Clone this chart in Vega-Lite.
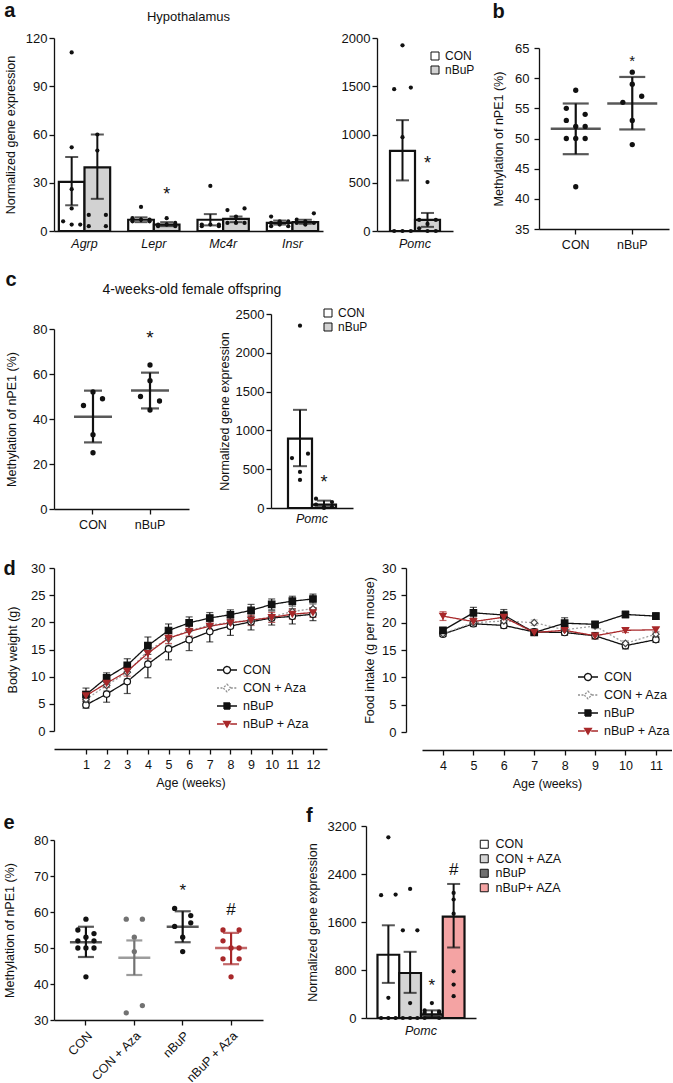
{
  "$schema": "https://vega.github.io/schema/vega-lite/v6.json",
  "padding": {"left": 3, "top": 0, "right": 0, "bottom": 0},
  "background": "white",
  "config": {
    "font": "Liberation Sans",
    "view": {"stroke": null},
    "axis": {"domainColor": "#111", "domainWidth": 1.3, "tickColor": "#111", "tickWidth": 1.3, "tickSize": 5, "labelColor": "#111", "labelFontSize": 13, "titleFontSize": 12.5, "titleFontWeight": "normal", "titleColor": "#111", "grid": false, "labelPadding": 2, "titlePadding": 8, "labelOverlap": false},
    "axisX": {"labelAngle": 0},
    "axisY": {"format": "d", "tickCount": 20},
    "title": {"color": "#111", "fontSize": 20, "fontWeight": "bold", "anchor": "start", "frame": "bounds"},
    "legend": {"labelColor": "#111", "labelFontSize": 12.5}
  },
  "datasets": {
    "aBars": [
      {"gene": "Agrp", "group": "CON", "mean": 30.5, "lo": 16, "hi": 46},
      {"gene": "Agrp", "group": "nBuP", "mean": 39.5, "lo": 20, "hi": 60},
      {"gene": "Lepr", "group": "CON", "mean": 7, "lo": 5.5, "hi": 8.5},
      {"gene": "Lepr", "group": "nBuP", "mean": 4, "lo": 3, "hi": 5.5},
      {"gene": "Mc4r", "group": "CON", "mean": 7, "lo": 3.5, "hi": 10.5},
      {"gene": "Mc4r", "group": "nBuP", "mean": 7.5, "lo": 5.5, "hi": 9},
      {"gene": "Insr", "group": "CON", "mean": 5, "lo": 4, "hi": 6.5},
      {"gene": "Insr", "group": "nBuP", "mean": 5.5, "lo": 4.5, "hi": 7}
    ],
    "aDots": [
      {"gene": "Agrp", "slot": "CON-C", "value": 111}, {"gene": "Agrp", "slot": "CON-C", "value": 52}, {"gene": "Agrp", "slot": "CON-C", "value": 26}, {"gene": "Agrp", "slot": "CON-C", "value": 14}, {"gene": "Agrp", "slot": "CON-L", "value": 6}, {"gene": "Agrp", "slot": "CON-C", "value": 4}, {"gene": "Agrp", "slot": "CON-R", "value": 4},
      {"gene": "Agrp", "slot": "nBuP-C", "value": 60}, {"gene": "Agrp", "slot": "nBuP-C", "value": 50}, {"gene": "Agrp", "slot": "nBuP-L", "value": 10}, {"gene": "Agrp", "slot": "nBuP-R", "value": 10}, {"gene": "Agrp", "slot": "nBuP-L", "value": 3}, {"gene": "Agrp", "slot": "nBuP-R", "value": 3},
      {"gene": "Lepr", "slot": "CON-C", "value": 15}, {"gene": "Lepr", "slot": "CON-L", "value": 8}, {"gene": "Lepr", "slot": "CON-R", "value": 7}, {"gene": "Lepr", "slot": "CON-C", "value": 7}, {"gene": "Lepr", "slot": "CON-L", "value": 6}, {"gene": "Lepr", "slot": "CON-R", "value": 6},
      {"gene": "Lepr", "slot": "nBuP-C", "value": 8}, {"gene": "Lepr", "slot": "nBuP-R", "value": 5}, {"gene": "Lepr", "slot": "nBuP-L", "value": 4}, {"gene": "Lepr", "slot": "nBuP-C", "value": 4}, {"gene": "Lepr", "slot": "nBuP-L", "value": 3}, {"gene": "Lepr", "slot": "nBuP-R", "value": 3},
      {"gene": "Mc4r", "slot": "CON-C", "value": 28}, {"gene": "Mc4r", "slot": "CON-L", "value": 4}, {"gene": "Mc4r", "slot": "CON-C", "value": 4}, {"gene": "Mc4r", "slot": "CON-R", "value": 4}, {"gene": "Mc4r", "slot": "CON-L", "value": 3}, {"gene": "Mc4r", "slot": "CON-R", "value": 3},
      {"gene": "Mc4r", "slot": "nBuP-R", "value": 14}, {"gene": "Mc4r", "slot": "nBuP-L", "value": 13}, {"gene": "Mc4r", "slot": "nBuP-C", "value": 9}, {"gene": "Mc4r", "slot": "nBuP-L", "value": 5}, {"gene": "Mc4r", "slot": "nBuP-C", "value": 5}, {"gene": "Mc4r", "slot": "nBuP-R", "value": 5},
      {"gene": "Insr", "slot": "CON-L", "value": 9}, {"gene": "Insr", "slot": "CON-C", "value": 6}, {"gene": "Insr", "slot": "CON-R", "value": 6}, {"gene": "Insr", "slot": "CON-L", "value": 5}, {"gene": "Insr", "slot": "CON-C", "value": 4}, {"gene": "Insr", "slot": "CON-R", "value": 3}, {"gene": "Insr", "slot": "CON-L", "value": 3},
      {"gene": "Insr", "slot": "nBuP-R", "value": 11}, {"gene": "Insr", "slot": "nBuP-L", "value": 7}, {"gene": "Insr", "slot": "nBuP-C", "value": 6}, {"gene": "Insr", "slot": "nBuP-R", "value": 5}, {"gene": "Insr", "slot": "nBuP-L", "value": 5}, {"gene": "Insr", "slot": "nBuP-C", "value": 4}
    ],
    "aStars": [{"gene": "Lepr", "group": "nBuP", "y": 25, "label": "*"}],
    "pBars": [
      {"gene": "Pomc", "group": "CON", "mean": 830, "lo": 524, "hi": 1149},
      {"gene": "Pomc", "group": "nBuP", "mean": 115, "lo": 43, "hi": 187}
    ],
    "pDots": [
      {"gene": "Pomc", "slot": "CON-C", "value": 1924}, {"gene": "Pomc", "slot": "CON-L", "value": 1469}, {"gene": "Pomc", "slot": "CON-R", "value": 1486}, {"gene": "Pomc", "slot": "CON-C", "value": 972}, {"gene": "Pomc", "slot": "CON-L", "value": 0}, {"gene": "Pomc", "slot": "CON-C", "value": 0}, {"gene": "Pomc", "slot": "CON-R", "value": 0},
      {"gene": "Pomc", "slot": "nBuP-C", "value": 507}, {"gene": "Pomc", "slot": "nBuP-L", "value": 115}, {"gene": "Pomc", "slot": "nBuP-C", "value": 73}, {"gene": "Pomc", "slot": "nBuP-R", "value": 115}, {"gene": "Pomc", "slot": "nBuP-L", "value": 28}, {"gene": "Pomc", "slot": "nBuP-C", "value": 0}, {"gene": "Pomc", "slot": "nBuP-R", "value": 0}
    ],
    "pStars": [{"gene": "Pomc", "group": "nBuP", "y": 733, "label": "*"}],
    "bDots": [
      {"group": "CON", "slot": "C", "value": 58}, {"group": "CON", "slot": "L", "value": 55}, {"group": "CON", "slot": "R", "value": 54}, {"group": "CON", "slot": "L", "value": 53}, {"group": "CON", "slot": "C", "value": 52}, {"group": "CON", "slot": "R", "value": 52}, {"group": "CON", "slot": "L", "value": 50}, {"group": "CON", "slot": "C", "value": 50}, {"group": "CON", "slot": "R", "value": 50}, {"group": "CON", "slot": "C", "value": 42},
      {"group": "nBuP", "slot": "C", "value": 61}, {"group": "nBuP", "slot": "C", "value": 59}, {"group": "nBuP", "slot": "R", "value": 57}, {"group": "nBuP", "slot": "L", "value": 56}, {"group": "nBuP", "slot": "C", "value": 53}, {"group": "nBuP", "slot": "C", "value": 49}
    ],
    "bStats": [
      {"group": "CON", "mean": 51.6, "lo": 47.4, "hi": 55.8},
      {"group": "nBuP", "mean": 55.8, "lo": 51.5, "hi": 60.2}
    ],
    "bStars": [{"group": "nBuP", "y": 63.3, "label": "*"}],
    "cDots": [
      {"group": "CON", "slot": "C", "value": 52}, {"group": "CON", "slot": "R", "value": 49}, {"group": "CON", "slot": "L", "value": 46}, {"group": "CON", "slot": "C", "value": 33}, {"group": "CON", "slot": "C", "value": 25},
      {"group": "nBuP", "slot": "C", "value": 64}, {"group": "nBuP", "slot": "C", "value": 57}, {"group": "nBuP", "slot": "L", "value": 50}, {"group": "nBuP", "slot": "R", "value": 48}, {"group": "nBuP", "slot": "C", "value": 44}
    ],
    "cStats": [
      {"group": "CON", "mean": 41.0, "lo": 29.6, "hi": 52.6},
      {"group": "nBuP", "mean": 52.7, "lo": 44.7, "hi": 60.6}
    ],
    "cStars": [{"group": "nBuP", "y": 78, "label": "*"}],
    "crBars": [
      {"gene": "Pomc", "group": "CON", "mean": 895, "lo": 539, "hi": 1265},
      {"gene": "Pomc", "group": "nBuP", "mean": 43, "lo": 10, "hi": 95}
    ],
    "crDots": [
      {"gene": "Pomc", "slot": "CON-C", "value": 2350}, {"gene": "Pomc", "slot": "CON-L", "value": 644}, {"gene": "Pomc", "slot": "CON-R", "value": 700}, {"gene": "Pomc", "slot": "CON-C", "value": 464}, {"gene": "Pomc", "slot": "CON-C", "value": 361},
      {"gene": "Pomc", "slot": "nBuP-L", "value": 120}, {"gene": "Pomc", "slot": "nBuP-R", "value": 77}, {"gene": "Pomc", "slot": "nBuP-L", "value": 43}, {"gene": "Pomc", "slot": "nBuP-C", "value": 13}, {"gene": "Pomc", "slot": "nBuP-R", "value": 13}, {"gene": "Pomc", "slot": "nBuP-C", "value": 0}
    ],
    "crStars": [{"gene": "Pomc", "group": "nBuP", "y": 380, "label": "*"}],
    "dBW": [
      {"s": "CON", "w": 1, "m": 4.8, "lo": 4.2, "hi": 5.4}, {"s": "CON", "w": 2, "m": 6.8, "lo": 5.3, "hi": 8.3}, {"s": "CON", "w": 3, "m": 9.1, "lo": 6.9, "hi": 11.3}, {"s": "CON", "w": 4, "m": 12.3, "lo": 9.8, "hi": 14.8}, {"s": "CON", "w": 5, "m": 15.1, "lo": 13.1, "hi": 17.1}, {"s": "CON", "w": 6, "m": 16.8, "lo": 14.8, "hi": 18.8}, {"s": "CON", "w": 7, "m": 18.3, "lo": 16.4, "hi": 20.2}, {"s": "CON", "w": 8, "m": 19.3, "lo": 17.6, "hi": 21.0}, {"s": "CON", "w": 9, "m": 20.1, "lo": 18.6, "hi": 21.6}, {"s": "CON", "w": 10, "m": 20.8, "lo": 19.5, "hi": 22.1}, {"s": "CON", "w": 11, "m": 21.1, "lo": 19.7, "hi": 22.5}, {"s": "CON", "w": 12, "m": 21.5, "lo": 20.3, "hi": 22.7},
      {"s": "CON + Aza", "w": 1, "m": 5.8, "lo": 5.0, "hi": 6.6}, {"s": "CON + Aza", "w": 2, "m": 8.4, "lo": 7.4, "hi": 9.4}, {"s": "CON + Aza", "w": 3, "m": 10.8, "lo": 9.6, "hi": 12.0}, {"s": "CON + Aza", "w": 4, "m": 14.8, "lo": 13.4, "hi": 16.2}, {"s": "CON + Aza", "w": 5, "m": 17.0, "lo": 15.8, "hi": 18.2}, {"s": "CON + Aza", "w": 6, "m": 18.5, "lo": 17.5, "hi": 19.5}, {"s": "CON + Aza", "w": 7, "m": 19.5, "lo": 18.5, "hi": 20.5}, {"s": "CON + Aza", "w": 8, "m": 20.0, "lo": 19.0, "hi": 21.0}, {"s": "CON + Aza", "w": 9, "m": 20.4, "lo": 19.4, "hi": 21.4}, {"s": "CON + Aza", "w": 10, "m": 21.0, "lo": 20.0, "hi": 22.0}, {"s": "CON + Aza", "w": 11, "m": 22.0, "lo": 21.0, "hi": 23.0}, {"s": "CON + Aza", "w": 12, "m": 22.5, "lo": 21.5, "hi": 23.5},
      {"s": "nBuP", "w": 1, "m": 6.7, "lo": 5.5, "hi": 7.9}, {"s": "nBuP", "w": 2, "m": 9.8, "lo": 8.9, "hi": 10.7}, {"s": "nBuP", "w": 3, "m": 12.1, "lo": 10.9, "hi": 13.3}, {"s": "nBuP", "w": 4, "m": 15.7, "lo": 14.1, "hi": 17.3}, {"s": "nBuP", "w": 5, "m": 18.5, "lo": 17.3, "hi": 19.7}, {"s": "nBuP", "w": 6, "m": 19.9, "lo": 18.8, "hi": 21.0}, {"s": "nBuP", "w": 7, "m": 20.8, "lo": 19.8, "hi": 21.8}, {"s": "nBuP", "w": 8, "m": 21.4, "lo": 20.5, "hi": 22.3}, {"s": "nBuP", "w": 9, "m": 22.2, "lo": 21.1, "hi": 23.3}, {"s": "nBuP", "w": 10, "m": 23.3, "lo": 22.3, "hi": 24.3}, {"s": "nBuP", "w": 11, "m": 23.9, "lo": 23.0, "hi": 24.8}, {"s": "nBuP", "w": 12, "m": 24.3, "lo": 23.4, "hi": 25.2},
      {"s": "nBuP + Aza", "w": 1, "m": 6.5, "lo": 5.7, "hi": 7.3}, {"s": "nBuP + Aza", "w": 2, "m": 8.8, "lo": 8.0, "hi": 9.6}, {"s": "nBuP + Aza", "w": 3, "m": 11.0, "lo": 10.1, "hi": 11.9}, {"s": "nBuP + Aza", "w": 4, "m": 14.3, "lo": 13.3, "hi": 15.3}, {"s": "nBuP + Aza", "w": 5, "m": 17.1, "lo": 16.1, "hi": 18.1}, {"s": "nBuP + Aza", "w": 6, "m": 18.3, "lo": 17.4, "hi": 19.2}, {"s": "nBuP + Aza", "w": 7, "m": 19.3, "lo": 18.4, "hi": 20.2}, {"s": "nBuP + Aza", "w": 8, "m": 19.9, "lo": 19.0, "hi": 20.8}, {"s": "nBuP + Aza", "w": 9, "m": 20.4, "lo": 19.5, "hi": 21.3}, {"s": "nBuP + Aza", "w": 10, "m": 20.9, "lo": 20.0, "hi": 21.8}, {"s": "nBuP + Aza", "w": 11, "m": 21.5, "lo": 20.6, "hi": 22.4}, {"s": "nBuP + Aza", "w": 12, "m": 21.8, "lo": 20.9, "hi": 22.7}
    ],
    "dFI": [
      {"s": "CON", "w": 4, "m": 17.9, "lo": 17.5, "hi": 18.3}, {"s": "CON", "w": 5, "m": 19.8, "lo": 19.3, "hi": 20.3}, {"s": "CON", "w": 6, "m": 19.5, "lo": 19.0, "hi": 20.0}, {"s": "CON", "w": 7, "m": 18.3, "lo": 17.8, "hi": 18.8}, {"s": "CON", "w": 8, "m": 18.2, "lo": 17.7, "hi": 18.7}, {"s": "CON", "w": 9, "m": 17.6, "lo": 17.0, "hi": 18.2}, {"s": "CON", "w": 10, "m": 15.8, "lo": 15.2, "hi": 16.4}, {"s": "CON", "w": 11, "m": 16.9, "lo": 16.4, "hi": 17.4},
      {"s": "CON + Aza", "w": 4, "m": 18.0, "lo": 17.6, "hi": 18.4}, {"s": "CON + Aza", "w": 5, "m": 20.0, "lo": 19.5, "hi": 20.5}, {"s": "CON + Aza", "w": 6, "m": 20.3, "lo": 19.8, "hi": 20.8}, {"s": "CON + Aza", "w": 7, "m": 20.0, "lo": 19.5, "hi": 20.5}, {"s": "CON + Aza", "w": 8, "m": 18.7, "lo": 18.2, "hi": 19.2}, {"s": "CON + Aza", "w": 9, "m": 19.4, "lo": 18.9, "hi": 19.9}, {"s": "CON + Aza", "w": 10, "m": 16.2, "lo": 15.7, "hi": 16.7}, {"s": "CON + Aza", "w": 11, "m": 17.9, "lo": 17.4, "hi": 18.4},
      {"s": "nBuP", "w": 4, "m": 18.6, "lo": 18.1, "hi": 19.1}, {"s": "nBuP", "w": 5, "m": 21.8, "lo": 20.8, "hi": 22.8}, {"s": "nBuP", "w": 6, "m": 21.4, "lo": 20.4, "hi": 22.4}, {"s": "nBuP", "w": 7, "m": 18.2, "lo": 17.7, "hi": 18.7}, {"s": "nBuP", "w": 8, "m": 19.9, "lo": 18.9, "hi": 20.9}, {"s": "nBuP", "w": 9, "m": 19.7, "lo": 19.2, "hi": 20.2}, {"s": "nBuP", "w": 10, "m": 21.5, "lo": 20.9, "hi": 22.1}, {"s": "nBuP", "w": 11, "m": 21.2, "lo": 20.6, "hi": 21.8},
      {"s": "nBuP + Aza", "w": 4, "m": 21.2, "lo": 20.4, "hi": 22.0}, {"s": "nBuP + Aza", "w": 5, "m": 20.2, "lo": 19.6, "hi": 20.8}, {"s": "nBuP + Aza", "w": 6, "m": 21.0, "lo": 20.4, "hi": 21.6}, {"s": "nBuP + Aza", "w": 7, "m": 18.2, "lo": 17.8, "hi": 18.6}, {"s": "nBuP + Aza", "w": 8, "m": 18.6, "lo": 18.1, "hi": 19.1}, {"s": "nBuP + Aza", "w": 9, "m": 17.6, "lo": 17.1, "hi": 18.1}, {"s": "nBuP + Aza", "w": 10, "m": 18.6, "lo": 18.2, "hi": 19.0}, {"s": "nBuP + Aza", "w": 11, "m": 18.7, "lo": 18.3, "hi": 19.1}
    ],
    "eDots": [
      {"cat": "CON", "slot": "C", "value": 58}, {"cat": "CON", "slot": "L", "value": 55}, {"cat": "CON", "slot": "R", "value": 54}, {"cat": "CON", "slot": "C", "value": 53}, {"cat": "CON", "slot": "L", "value": 52}, {"cat": "CON", "slot": "R", "value": 52}, {"cat": "CON", "slot": "L", "value": 50}, {"cat": "CON", "slot": "C", "value": 50}, {"cat": "CON", "slot": "R", "value": 50}, {"cat": "CON", "slot": "C", "value": 42},
      {"cat": "CON + Aza", "slot": "L", "value": 58}, {"cat": "CON + Aza", "slot": "R", "value": 58}, {"cat": "CON + Aza", "slot": "C", "value": 53}, {"cat": "CON + Aza", "slot": "C", "value": 49}, {"cat": "CON + Aza", "slot": "R", "value": 34}, {"cat": "CON + Aza", "slot": "L", "value": 32},
      {"cat": "nBuP", "slot": "L", "value": 61}, {"cat": "nBuP", "slot": "R", "value": 59}, {"cat": "nBuP", "slot": "R", "value": 57}, {"cat": "nBuP", "slot": "L", "value": 56}, {"cat": "nBuP", "slot": "C", "value": 53}, {"cat": "nBuP", "slot": "C", "value": 49},
      {"cat": "nBuP + Aza", "slot": "L", "value": 55}, {"cat": "nBuP + Aza", "slot": "R", "value": 55}, {"cat": "nBuP + Aza", "slot": "L", "value": 52}, {"cat": "nBuP + Aza", "slot": "C", "value": 50}, {"cat": "nBuP + Aza", "slot": "R", "value": 50}, {"cat": "nBuP + Aza", "slot": "L", "value": 47}, {"cat": "nBuP + Aza", "slot": "R", "value": 47}, {"cat": "nBuP + Aza", "slot": "C", "value": 42}
    ],
    "eStats": [
      {"cat": "CON", "mean": 51.6, "lo": 47.5, "hi": 55.9},
      {"cat": "CON + Aza", "mean": 47.3, "lo": 42.5, "hi": 52.1},
      {"cat": "nBuP", "mean": 55.9, "lo": 51.6, "hi": 60.2},
      {"cat": "nBuP + Aza", "mean": 50.0, "lo": 45.5, "hi": 54.2}
    ],
    "eMarks": [
      {"cat": "nBuP", "y": 66.8, "label": "*"},
      {"cat": "nBuP + Aza", "y": 61.5, "label": "#"}
    ],
    "fBars": [
      {"gene": "Pomc", "grp": "CON", "mean": 1054, "lo": 585, "hi": 1545},
      {"gene": "Pomc", "grp": "CON + AZA", "mean": 750, "lo": 419, "hi": 1103},
      {"gene": "Pomc", "grp": "nBuP", "mean": 60, "lo": 20, "hi": 127},
      {"gene": "Pomc", "grp": "nBuP+ AZA", "mean": 1688, "lo": 1175, "hi": 2234}
    ],
    "fDots": [
      {"gene": "Pomc", "slot": "1C", "value": 3012}, {"gene": "Pomc", "slot": "1L", "value": 2047}, {"gene": "Pomc", "slot": "1R", "value": 2058}, {"gene": "Pomc", "slot": "1C", "value": 337}, {"gene": "Pomc", "slot": "1L", "value": 0}, {"gene": "Pomc", "slot": "1C", "value": 0}, {"gene": "Pomc", "slot": "1R", "value": 0},
      {"gene": "Pomc", "slot": "2C", "value": 2152}, {"gene": "Pomc", "slot": "2L", "value": 1462}, {"gene": "Pomc", "slot": "2R", "value": 1462}, {"gene": "Pomc", "slot": "2C", "value": 248}, {"gene": "Pomc", "slot": "2L", "value": 0}, {"gene": "Pomc", "slot": "2C", "value": 0}, {"gene": "Pomc", "slot": "2R", "value": 0},
      {"gene": "Pomc", "slot": "3C", "value": 248}, {"gene": "Pomc", "slot": "3L", "value": 127}, {"gene": "Pomc", "slot": "3R", "value": 110}, {"gene": "Pomc", "slot": "3L", "value": 88}, {"gene": "Pomc", "slot": "3R", "value": 88}, {"gene": "Pomc", "slot": "3L", "value": 0}, {"gene": "Pomc", "slot": "3R", "value": 0},
      {"gene": "Pomc", "slot": "4C", "value": 2085}, {"gene": "Pomc", "slot": "4C", "value": 1975}, {"gene": "Pomc", "slot": "4C", "value": 1738}, {"gene": "Pomc", "slot": "4C", "value": 778}, {"gene": "Pomc", "slot": "4C", "value": 557}, {"gene": "Pomc", "slot": "4C", "value": 364}
    ],
    "fMarks": [
      {"gene": "Pomc", "grp": "nBuP", "y": 585, "label": "*"},
      {"gene": "Pomc", "grp": "nBuP+ AZA", "y": 2520, "label": "#"}
    ]
  },
  "concat": [
    {
      "concat": [
        {
          "concat": [
            {
              "title": {"text": "a", "offset": -10},
              "concat": [
                {
                  "width": 269, "height": 193,
                  "title": {"text": "Hypothalamus", "fontSize": 13, "fontWeight": "normal", "anchor": "middle", "frame": "group", "offset": 8.5},
                  "resolve": {"scale": {"xOffset": "independent"}},
                  "encoding": {"x": {"field": "gene", "type": "nominal", "sort": null, "scale": {"domain": ["Agrp", "Lepr", "Mc4r", "Insr"], "paddingInner": 0.26, "paddingOuter": 0.07}, "axis": {"title": null, "ticks": false, "labelFontStyle": "italic", "labelFontSize": 12.5, "labelPadding": 6}}},
                  "layer": [
                    {"data": {"name": "aBars"}, "mark": {"type": "bar", "stroke": "#111", "strokeWidth": 2.2},
                     "encoding": {"xOffset": {"field": "group", "type": "nominal", "scale": {"domain": ["CON", "nBuP"]}},
                       "y": {"field": "mean", "type": "quantitative", "title": "Normalized gene expression", "scale": {"domain": [0, 120], "nice": false}, "axis": {"values": [0, 30, 60, 90, 120], "tickCount": 20, "labelOverlap": false, "titlePadding": 8}},
                       "fill": {"field": "group", "type": "nominal", "scale": {"domain": ["CON", "nBuP"], "range": ["#ffffff", "#d2d2d2"]}, "legend": null}}},
                    {"data": {"name": "aDots"}, "mark": {"type": "circle", "size": 18, "color": "#111", "opacity": 1},
                     "encoding": {"xOffset": {"field": "slot", "type": "nominal", "scale": {"domain": ["CON-L", "CON-C", "CON-R", "nBuP-L", "nBuP-C", "nBuP-R"]}},
                       "y": {"field": "value", "type": "quantitative", "title": "Normalized gene expression"}}},
                    {"data": {"name": "aBars"}, "mark": {"type": "rule", "color": "#111", "strokeWidth": 2},
                     "encoding": {"xOffset": {"field": "group", "type": "nominal", "scale": {"domain": ["CON", "nBuP"]}}, "y": {"field": "lo", "type": "quantitative", "title": "Normalized gene expression"}, "y2": {"field": "hi"}}},
                    {"data": {"name": "aBars"}, "mark": {"type": "tick", "color": "#111", "thickness": 2, "size": 13},
                     "encoding": {"xOffset": {"field": "group", "type": "nominal", "scale": {"domain": ["CON", "nBuP"]}}, "y": {"field": "lo", "type": "quantitative", "title": "Normalized gene expression"}}},
                    {"data": {"name": "aBars"}, "mark": {"type": "tick", "color": "#111", "thickness": 2, "size": 13},
                     "encoding": {"xOffset": {"field": "group", "type": "nominal", "scale": {"domain": ["CON", "nBuP"]}}, "y": {"field": "hi", "type": "quantitative", "title": "Normalized gene expression"}}},
                    {"data": {"name": "aStars"}, "mark": {"type": "text", "fontSize": 18, "baseline": "middle", "dy": 4, "color": "#111"},
                     "encoding": {"xOffset": {"field": "group", "type": "nominal", "scale": {"domain": ["CON", "nBuP"]}}, "y": {"field": "y", "type": "quantitative", "title": "Normalized gene expression"}, "text": {"field": "label"}}}
                  ]
                },
                {
                  "width": 76, "height": 193,
                  "resolve": {"scale": {"xOffset": "independent"}},
                  "encoding": {"x": {"field": "gene", "type": "nominal", "scale": {"domain": ["Pomc"], "paddingInner": 0, "paddingOuter": 0.26}, "axis": {"title": null, "ticks": false, "labelFontStyle": "italic", "labelFontSize": 12.5, "labelPadding": 6}}},
                  "layer": [
                    {"data": {"name": "pBars"}, "mark": {"type": "bar", "stroke": "#111", "strokeWidth": 2.2},
                     "encoding": {"xOffset": {"field": "group", "type": "nominal", "scale": {"domain": ["CON", "nBuP"]}},
                       "y": {"field": "mean", "type": "quantitative", "title": null, "scale": {"domain": [0, 2000], "nice": false}, "axis": {"values": [0, 500, 1000, 1500, 2000], "tickCount": 20, "labelOverlap": false}},
                       "fill": {"field": "group", "type": "nominal", "scale": {"domain": ["CON", "nBuP"], "range": ["#ffffff", "#d2d2d2"]},
                         "legend": {"title": null, "orient": "none", "legendX": 52, "legendY": 12, "symbolType": "square", "symbolSize": 64, "symbolStrokeColor": "#111", "symbolStrokeWidth": 1, "labelFontSize": 12, "rowPadding": 2, "labelOffset": 4}}}},
                    {"data": {"name": "pDots"}, "mark": {"type": "circle", "size": 18, "color": "#111", "opacity": 1},
                     "encoding": {"xOffset": {"field": "slot", "type": "nominal", "scale": {"domain": ["CON-L", "CON-C", "CON-R", "nBuP-L", "nBuP-C", "nBuP-R"]}},
                       "y": {"field": "value", "type": "quantitative", "title": null}}},
                    {"data": {"name": "pBars"}, "mark": {"type": "rule", "color": "#111", "strokeWidth": 2},
                     "encoding": {"xOffset": {"field": "group", "type": "nominal", "scale": {"domain": ["CON", "nBuP"]}}, "y": {"field": "lo", "type": "quantitative", "title": null}, "y2": {"field": "hi"}}},
                    {"data": {"name": "pBars"}, "mark": {"type": "tick", "color": "#111", "thickness": 2, "size": 13},
                     "encoding": {"xOffset": {"field": "group", "type": "nominal", "scale": {"domain": ["CON", "nBuP"]}}, "y": {"field": "lo", "type": "quantitative", "title": null}}},
                    {"data": {"name": "pBars"}, "mark": {"type": "tick", "color": "#111", "thickness": 2, "size": 13},
                     "encoding": {"xOffset": {"field": "group", "type": "nominal", "scale": {"domain": ["CON", "nBuP"]}}, "y": {"field": "hi", "type": "quantitative", "title": null}}},
                    {"data": {"name": "pStars"}, "mark": {"type": "text", "fontSize": 18, "baseline": "middle", "dy": 4, "color": "#111"},
                     "encoding": {"xOffset": {"field": "group", "type": "nominal", "scale": {"domain": ["CON", "nBuP"]}}, "y": {"field": "y", "type": "quantitative", "title": null}, "text": {"field": "label"}}}
                  ]
                }
              ],
              "spacing": 18,
              "align": "none",
              "resolve": {"scale": {"fill": "independent", "color": "independent", "xOffset": "independent"}}
            },
            {
              "title": {"text": "b", "offset": 16},
              "concat": [
                {"width": 10, "height": 3.5, "data": {"name": "bStats"}, "transform": [{"filter": "false"}], "mark": {"type": "point"}},
                {
                  "width": 130, "height": 181,
                  "encoding": {"x": {"field": "group", "type": "nominal", "sort": null, "scale": {"domain": ["CON", "nBuP"], "paddingInner": 0.5, "paddingOuter": 0.4}, "axis": {"title": null, "labelFontSize": 12.5, "labelPadding": 4}}},
                  "layer": [
                    {"data": {"name": "bDots"}, "mark": {"type": "circle", "size": 28, "color": "#111", "opacity": 1},
                     "encoding": {"xOffset": {"field": "slot", "type": "nominal", "scale": {"domain": ["L", "C", "R"]}},
                       "y": {"field": "value", "type": "quantitative", "title": "Methylation of nPE1 (%)", "scale": {"domain": [35, 65], "nice": false, "zero": false}, "axis": {"values": [35, 40, 45, 50, 55, 60, 65], "tickCount": 20, "labelOverlap": false, "labelPadding": 5, "titlePadding": 9}}}},
                    {"data": {"name": "bStats"}, "mark": {"type": "tick", "size": 50, "thickness": 2.5, "color": "#111"},
                     "encoding": {"y": {"field": "mean", "type": "quantitative", "title": "Methylation of nPE1 (%)"}}},
                    {"data": {"name": "bStats"}, "mark": {"type": "rule", "strokeWidth": 2.2, "color": "#111"},
                     "encoding": {"y": {"field": "lo", "type": "quantitative", "title": "Methylation of nPE1 (%)"}, "y2": {"field": "hi"}}},
                    {"data": {"name": "bStats"}, "mark": {"type": "tick", "size": 26, "thickness": 2.2, "color": "#111"},
                     "encoding": {"y": {"field": "lo", "type": "quantitative", "title": "Methylation of nPE1 (%)"}}},
                    {"data": {"name": "bStats"}, "mark": {"type": "tick", "size": 26, "thickness": 2.2, "color": "#111"},
                     "encoding": {"y": {"field": "hi", "type": "quantitative", "title": "Methylation of nPE1 (%)"}}},
                    {"data": {"name": "bStars"}, "mark": {"type": "text", "fontSize": 15, "baseline": "middle", "dy": 3, "color": "#111"},
                     "encoding": {"y": {"field": "y", "type": "quantitative", "title": "Methylation of nPE1 (%)"}, "text": {"field": "label"}}}
                  ]
                }
              ],
              "columns": 1,
              "spacing": 0,
              "align": "none"
            }
          ],
          "spacing": 17,
          "align": "none",
          "resolve": {"scale": {"fill": "independent", "color": "independent", "xOffset": "independent"}}
        },
        {
          "title": {"text": "c", "offset": -7},
          "concat": [
            {
              "title": {"text": "4-weeks-old female offspring", "fontSize": 14, "fontWeight": "normal", "anchor": "start", "dx": 97, "offset": 10},
              "concat": [
                {
                  "concat": [
                    {"width": 10, "height": 8.5, "data": {"name": "cStats"}, "transform": [{"filter": "false"}], "mark": {"type": "point"}},
                    {
                      "width": 135, "height": 180,
                      "encoding": {"x": {"field": "group", "type": "nominal", "sort": null, "scale": {"domain": ["CON", "nBuP"], "paddingInner": 0.5, "paddingOuter": 0.434}, "axis": {"title": null, "labelFontSize": 12.5, "labelPadding": 4}}},
                      "layer": [
                        {"data": {"name": "cDots"}, "mark": {"type": "circle", "size": 28, "color": "#111", "opacity": 1},
                         "encoding": {"xOffset": {"field": "slot", "type": "nominal", "scale": {"domain": ["L", "C", "R"]}},
                           "y": {"field": "value", "type": "quantitative", "title": "Methylation of nPE1 (%)", "scale": {"domain": [0, 80], "nice": false}, "axis": {"values": [0, 20, 40, 60, 80], "tickCount": 20, "labelOverlap": false, "labelPadding": 2, "titlePadding": 14}}}},
                        {"data": {"name": "cStats"}, "mark": {"type": "tick", "size": 38, "thickness": 2.5, "color": "#111"},
                         "encoding": {"y": {"field": "mean", "type": "quantitative", "title": "Methylation of nPE1 (%)"}}},
                        {"data": {"name": "cStats"}, "mark": {"type": "rule", "strokeWidth": 2.2, "color": "#111"},
                         "encoding": {"y": {"field": "lo", "type": "quantitative", "title": "Methylation of nPE1 (%)"}, "y2": {"field": "hi"}}},
                        {"data": {"name": "cStats"}, "mark": {"type": "tick", "size": 18, "thickness": 2.2, "color": "#111"},
                         "encoding": {"y": {"field": "lo", "type": "quantitative", "title": "Methylation of nPE1 (%)"}}},
                        {"data": {"name": "cStats"}, "mark": {"type": "tick", "size": 18, "thickness": 2.2, "color": "#111"},
                         "encoding": {"y": {"field": "hi", "type": "quantitative", "title": "Methylation of nPE1 (%)"}}},
                        {"data": {"name": "cStars"}, "mark": {"type": "text", "fontSize": 19, "baseline": "middle", "dy": 4, "color": "#111"},
                         "encoding": {"y": {"field": "y", "type": "quantitative", "title": "Methylation of nPE1 (%)"}, "text": {"field": "label"}}}
                      ]
                    }
                  ],
                  "columns": 1,
                  "spacing": 0,
                  "align": "none"
                },
                {
                  "width": 82, "height": 194,
                  "resolve": {"scale": {"xOffset": "independent"}},
                  "encoding": {"x": {"field": "gene", "type": "nominal", "scale": {"domain": ["Pomc"], "paddingInner": 0, "paddingOuter": 0.354}, "axis": {"title": null, "ticks": false, "labelFontStyle": "italic", "labelFontSize": 12.5, "labelPadding": 4}}},
                  "layer": [
                    {"data": {"name": "crBars"}, "mark": {"type": "bar", "stroke": "#111", "strokeWidth": 2.2},
                     "encoding": {"xOffset": {"field": "group", "type": "nominal", "scale": {"domain": ["CON", "nBuP"]}},
                       "y": {"field": "mean", "type": "quantitative", "title": "Normalized gene expression", "scale": {"domain": [0, 2500], "nice": false}, "axis": {"values": [0, 500, 1000, 1500, 2000, 2500], "tickCount": 20, "labelOverlap": false, "labelPadding": 2, "titlePadding": 4}},
                       "fill": {"field": "group", "type": "nominal", "scale": {"domain": ["CON", "nBuP"], "range": ["#ffffff", "#d2d2d2"]},
                         "legend": {"title": null, "orient": "none", "legendX": 51, "legendY": -7, "symbolType": "square", "symbolSize": 64, "symbolStrokeColor": "#111", "symbolStrokeWidth": 1, "labelFontSize": 12, "rowPadding": 2, "labelOffset": 4}}}},
                    {"data": {"name": "crDots"}, "mark": {"type": "circle", "size": 18, "color": "#111", "opacity": 1},
                     "encoding": {"xOffset": {"field": "slot", "type": "nominal", "scale": {"domain": ["CON-L", "CON-C", "CON-R", "nBuP-L", "nBuP-C", "nBuP-R"]}},
                       "y": {"field": "value", "type": "quantitative", "title": "Normalized gene expression"}}},
                    {"data": {"name": "crBars"}, "mark": {"type": "rule", "color": "#111", "strokeWidth": 2},
                     "encoding": {"xOffset": {"field": "group", "type": "nominal", "scale": {"domain": ["CON", "nBuP"]}}, "y": {"field": "lo", "type": "quantitative", "title": "Normalized gene expression"}, "y2": {"field": "hi"}}},
                    {"data": {"name": "crBars"}, "mark": {"type": "tick", "color": "#111", "thickness": 2, "size": 14},
                     "encoding": {"xOffset": {"field": "group", "type": "nominal", "scale": {"domain": ["CON", "nBuP"]}}, "y": {"field": "lo", "type": "quantitative", "title": "Normalized gene expression"}}},
                    {"data": {"name": "crBars"}, "mark": {"type": "tick", "color": "#111", "thickness": 2, "size": 14},
                     "encoding": {"xOffset": {"field": "group", "type": "nominal", "scale": {"domain": ["CON", "nBuP"]}}, "y": {"field": "hi", "type": "quantitative", "title": "Normalized gene expression"}}},
                    {"data": {"name": "crStars"}, "mark": {"type": "text", "fontSize": 18, "baseline": "middle", "dy": 4, "color": "#111"},
                     "encoding": {"xOffset": {"field": "group", "type": "nominal", "scale": {"domain": ["CON", "nBuP"]}}, "y": {"field": "y", "type": "quantitative", "title": "Normalized gene expression"}, "text": {"field": "label"}}}
                  ]
                }
              ],
              "spacing": 29,
              "align": "none",
              "resolve": {"scale": {"fill": "independent", "color": "independent", "xOffset": "independent"}}
            }
          ],
          "align": "none",
          "resolve": {"scale": {"fill": "independent", "color": "independent", "xOffset": "independent"}}
        }
      ],
      "columns": 1,
      "spacing": 19,
      "align": "none",
      "resolve": {"scale": {"fill": "independent", "color": "independent", "xOffset": "independent"}}
    },
    {
      "concat": [
        {
          "title": {"text": "d", "offset": -16.5, "dx": -3},
          "concat": [
            {
              "width": 273, "height": 163,
              "resolve": {"scale": {"shape": "independent", "fill": "independent", "stroke": "independent", "strokeDash": "independent", "color": "independent"}},
              "encoding": {"x": {"field": "w", "type": "quantitative", "scale": {"domain": [-0.55, 12.68], "nice": false, "zero": false}, "axis": {"values": [1, 2, 3, 4, 5, 6, 7, 8, 9, 10, 11, 12], "format": "d", "tickCount": 20, "labelOverlap": false, "offset": 18, "title": "Age (weeks)", "labelFontSize": 12.5, "labelPadding": 4, "titlePadding": 6}}},
              "layer": [
                {"data": {"name": "dBW"}, "mark": {"type": "line", "strokeWidth": 1.3},
                 "encoding": {"y": {"field": "m", "type": "quantitative", "title": "Body weight (g)", "scale": {"domain": [0, 30], "nice": false}, "axis": {"values": [0, 5, 10, 15, 20, 25, 30], "tickCount": 20, "labelOverlap": false, "labelPadding": 4, "titlePadding": 11}},
                   "color": {"field": "s", "type": "nominal", "scale": {"domain": ["CON", "CON + Aza", "nBuP", "nBuP + Aza"], "range": ["#111111", "#a0a0a0", "#111111", "#a8282a"]}, "legend": null},
                   "strokeDash": {"field": "s", "type": "nominal", "scale": {"domain": ["CON", "CON + Aza", "nBuP", "nBuP + Aza"], "range": [[1, 0], [2, 2], [1, 0], [1, 0]]}, "legend": null}}},
                {"data": {"name": "dBW"}, "mark": {"type": "rule", "strokeWidth": 1.2},
                 "encoding": {"y": {"field": "lo", "type": "quantitative", "title": "Body weight (g)"}, "y2": {"field": "hi"}, "color": {"field": "s", "type": "nominal", "scale": {"domain": ["CON", "CON + Aza", "nBuP", "nBuP + Aza"], "range": ["#111111", "#a0a0a0", "#111111", "#a8282a"]}, "legend": null}}},
                {"data": {"name": "dBW"}, "mark": {"type": "tick", "orient": "horizontal", "size": 7, "thickness": 1.2},
                 "encoding": {"y": {"field": "lo", "type": "quantitative", "title": "Body weight (g)"}, "color": {"field": "s", "type": "nominal", "scale": {"domain": ["CON", "CON + Aza", "nBuP", "nBuP + Aza"], "range": ["#111111", "#a0a0a0", "#111111", "#a8282a"]}, "legend": null}}},
                {"data": {"name": "dBW"}, "mark": {"type": "tick", "orient": "horizontal", "size": 7, "thickness": 1.2},
                 "encoding": {"y": {"field": "hi", "type": "quantitative", "title": "Body weight (g)"}, "color": {"field": "s", "type": "nominal", "scale": {"domain": ["CON", "CON + Aza", "nBuP", "nBuP + Aza"], "range": ["#111111", "#a0a0a0", "#111111", "#a8282a"]}, "legend": null}}},
                {"data": {"name": "dBW"}, "mark": {"type": "point", "filled": true, "size": 42, "strokeWidth": 1.2, "opacity": 1},
                 "encoding": {"y": {"field": "m", "type": "quantitative", "title": "Body weight (g)"},
                   "fill": {"field": "s", "type": "nominal", "scale": {"domain": ["CON", "CON + Aza", "nBuP", "nBuP + Aza"], "range": ["#ffffff", "#ffffff", "#111111", "#a8282a"]}, "legend": null},
                   "stroke": {"field": "s", "type": "nominal", "scale": {"domain": ["CON", "CON + Aza", "nBuP", "nBuP + Aza"], "range": ["#111111", "#444444", "#111111", "#a8282a"]}, "legend": null},
                   "shape": {"field": "s", "type": "nominal", "scale": {"domain": ["CON", "CON + Aza", "nBuP", "nBuP + Aza"], "range": ["circle", "diamond", "square", "triangle-down"]}, "legend": null}}},
                {"data": {"name": "dBW"}, "transform": [{"filter": "false"}], "mark": {"type": "point", "filled": true, "size": 400, "strokeWidth": 1.3, "opacity": 1},
                 "encoding": {
                   "shape": {"field": "s", "type": "nominal", "scale": {"domain": ["CON", "CON + Aza", "nBuP", "nBuP + Aza"], "range": ["M-1,0H-0.35M0.35,0H1M-0.35,0A0.35,0.35 0 1,1 0.35,0A0.35,0.35 0 1,1 -0.35,0Z", "M-1,0H-0.38M0.38,0H1M0,-0.38L0.38,0L0,0.38L-0.38,0Z", "M-1,0H-0.3M0.3,0H1M-0.3,-0.3H0.3V0.3H-0.3Z", "M-1,0H-0.32M0.32,0H1M-0.34,-0.26H0.34L0,0.32Z"]},
                     "legend": {"title": null, "orient": "none", "legendX": 162, "legendY": 91, "labelFontSize": 12.5, "rowPadding": 0, "symbolSize": 400, "symbolStrokeWidth": 1.3, "labelOffset": 5}},
                   "fill": {"field": "s", "type": "nominal", "scale": {"domain": ["CON", "CON + Aza", "nBuP", "nBuP + Aza"], "range": ["#ffffff", "#ffffff", "#111111", "#a8282a"]},
                     "legend": {"title": null, "orient": "none", "legendX": 162, "legendY": 91, "labelFontSize": 12.5, "rowPadding": 0, "symbolSize": 400, "symbolStrokeWidth": 1.3, "labelOffset": 5}},
                   "stroke": {"field": "s", "type": "nominal", "scale": {"domain": ["CON", "CON + Aza", "nBuP", "nBuP + Aza"], "range": ["#111111", "#909090", "#111111", "#a8282a"]},
                     "legend": {"title": null, "orient": "none", "legendX": 162, "legendY": 91, "labelFontSize": 12.5, "rowPadding": 0, "symbolSize": 400, "symbolStrokeWidth": 1.3, "labelOffset": 5}},
                   "strokeDash": {"field": "s", "type": "nominal", "scale": {"domain": ["CON", "CON + Aza", "nBuP", "nBuP + Aza"], "range": [[1, 0], [2, 1.5], [1, 0], [1, 0]]},
                     "legend": {"title": null, "orient": "none", "legendX": 162, "legendY": 91, "labelFontSize": 12.5, "rowPadding": 0, "symbolSize": 400, "symbolStrokeWidth": 1.3, "labelOffset": 5}}}}
              ]
            },
            {
              "width": 250, "height": 164,
              "resolve": {"scale": {"shape": "independent", "fill": "independent", "stroke": "independent", "strokeDash": "independent", "color": "independent"}},
              "encoding": {"x": {"field": "w", "type": "quantitative", "scale": {"domain": [3.31, 11.53], "nice": false, "zero": false}, "axis": {"values": [4, 5, 6, 7, 8, 9, 10, 11], "format": "d", "tickCount": 20, "labelOverlap": false, "offset": 18, "title": "Age (weeks)", "labelFontSize": 12.5, "labelPadding": 4, "titlePadding": 6}}},
              "layer": [
                {"data": {"name": "dFI"}, "mark": {"type": "line", "strokeWidth": 1.3},
                 "encoding": {"y": {"field": "m", "type": "quantitative", "title": "Food intake (g per mouse)", "scale": {"domain": [0, 30], "nice": false}, "axis": {"values": [0, 5, 10, 15, 20, 25, 30], "tickCount": 20, "labelOverlap": false, "offset": 16, "labelPadding": 5, "titlePadding": 5}},
                   "color": {"field": "s", "type": "nominal", "scale": {"domain": ["CON", "CON + Aza", "nBuP", "nBuP + Aza"], "range": ["#111111", "#a0a0a0", "#111111", "#a8282a"]}, "legend": null},
                   "strokeDash": {"field": "s", "type": "nominal", "scale": {"domain": ["CON", "CON + Aza", "nBuP", "nBuP + Aza"], "range": [[1, 0], [2, 2], [1, 0], [1, 0]]}, "legend": null}}},
                {"data": {"name": "dFI"}, "mark": {"type": "rule", "strokeWidth": 1.2},
                 "encoding": {"y": {"field": "lo", "type": "quantitative", "title": "Food intake (g per mouse)"}, "y2": {"field": "hi"}, "color": {"field": "s", "type": "nominal", "scale": {"domain": ["CON", "CON + Aza", "nBuP", "nBuP + Aza"], "range": ["#111111", "#a0a0a0", "#111111", "#a8282a"]}, "legend": null}}},
                {"data": {"name": "dFI"}, "mark": {"type": "tick", "orient": "horizontal", "size": 7, "thickness": 1.2},
                 "encoding": {"y": {"field": "lo", "type": "quantitative", "title": "Food intake (g per mouse)"}, "color": {"field": "s", "type": "nominal", "scale": {"domain": ["CON", "CON + Aza", "nBuP", "nBuP + Aza"], "range": ["#111111", "#a0a0a0", "#111111", "#a8282a"]}, "legend": null}}},
                {"data": {"name": "dFI"}, "mark": {"type": "tick", "orient": "horizontal", "size": 7, "thickness": 1.2},
                 "encoding": {"y": {"field": "hi", "type": "quantitative", "title": "Food intake (g per mouse)"}, "color": {"field": "s", "type": "nominal", "scale": {"domain": ["CON", "CON + Aza", "nBuP", "nBuP + Aza"], "range": ["#111111", "#a0a0a0", "#111111", "#a8282a"]}, "legend": null}}},
                {"data": {"name": "dFI"}, "mark": {"type": "point", "filled": true, "size": 42, "strokeWidth": 1.2, "opacity": 1},
                 "encoding": {"y": {"field": "m", "type": "quantitative", "title": "Food intake (g per mouse)"},
                   "fill": {"field": "s", "type": "nominal", "scale": {"domain": ["CON", "CON + Aza", "nBuP", "nBuP + Aza"], "range": ["#ffffff", "#ffffff", "#111111", "#a8282a"]}, "legend": null},
                   "stroke": {"field": "s", "type": "nominal", "scale": {"domain": ["CON", "CON + Aza", "nBuP", "nBuP + Aza"], "range": ["#111111", "#444444", "#111111", "#a8282a"]}, "legend": null},
                   "shape": {"field": "s", "type": "nominal", "scale": {"domain": ["CON", "CON + Aza", "nBuP", "nBuP + Aza"], "range": ["circle", "diamond", "square", "triangle-down"]}, "legend": null}}},
                {"data": {"name": "dFI"}, "transform": [{"filter": "false"}], "mark": {"type": "point", "filled": true, "size": 400, "strokeWidth": 1.3, "opacity": 1},
                 "encoding": {
                   "shape": {"field": "s", "type": "nominal", "scale": {"domain": ["CON", "CON + Aza", "nBuP", "nBuP + Aza"], "range": ["M-1,0H-0.35M0.35,0H1M-0.35,0A0.35,0.35 0 1,1 0.35,0A0.35,0.35 0 1,1 -0.35,0Z", "M-1,0H-0.38M0.38,0H1M0,-0.38L0.38,0L0,0.38L-0.38,0Z", "M-1,0H-0.3M0.3,0H1M-0.3,-0.3H0.3V0.3H-0.3Z", "M-1,0H-0.32M0.32,0H1M-0.34,-0.26H0.34L0,0.32Z"]},
                     "legend": {"title": null, "orient": "none", "legendX": 155, "legendY": 98, "labelFontSize": 12.5, "rowPadding": 0, "symbolSize": 400, "symbolStrokeWidth": 1.3, "labelOffset": 5}},
                   "fill": {"field": "s", "type": "nominal", "scale": {"domain": ["CON", "CON + Aza", "nBuP", "nBuP + Aza"], "range": ["#ffffff", "#ffffff", "#111111", "#a8282a"]},
                     "legend": {"title": null, "orient": "none", "legendX": 155, "legendY": 98, "labelFontSize": 12.5, "rowPadding": 0, "symbolSize": 400, "symbolStrokeWidth": 1.3, "labelOffset": 5}},
                   "stroke": {"field": "s", "type": "nominal", "scale": {"domain": ["CON", "CON + Aza", "nBuP", "nBuP + Aza"], "range": ["#111111", "#909090", "#111111", "#a8282a"]},
                     "legend": {"title": null, "orient": "none", "legendX": 155, "legendY": 98, "labelFontSize": 12.5, "rowPadding": 0, "symbolSize": 400, "symbolStrokeWidth": 1.3, "labelOffset": 5}},
                   "strokeDash": {"field": "s", "type": "nominal", "scale": {"domain": ["CON", "CON + Aza", "nBuP", "nBuP + Aza"], "range": [[1, 0], [2, 1.5], [1, 0], [1, 0]]},
                     "legend": {"title": null, "orient": "none", "legendX": 155, "legendY": 98, "labelFontSize": 12.5, "rowPadding": 0, "symbolSize": 400, "symbolStrokeWidth": 1.3, "labelOffset": 5}}}}
              ]
            }
          ],
          "spacing": 36,
          "align": "none",
          "resolve": {"scale": {"fill": "independent", "color": "independent", "stroke": "independent", "shape": "independent", "strokeDash": "independent", "xOffset": "independent"}}
        },
        {
          "title": {"text": "e", "offset": -27.5},
          "concat": [
            {
              "concat": [
                {"width": 10, "height": 7.5, "data": {"name": "eStats"}, "transform": [{"filter": "false"}], "mark": {"type": "point"}},
                {
                  "width": 209, "height": 180,
                  "encoding": {"x": {"field": "cat", "type": "nominal", "sort": null, "scale": {"domain": ["CON", "CON + Aza", "nBuP", "nBuP + Aza"], "paddingInner": 0.5, "paddingOuter": 0.41}, "axis": {"title": null, "labelAngle": -45, "labelFontSize": 12.5, "labelPadding": 4}}},
                  "layer": [
                    {"data": {"name": "eDots"}, "mark": {"type": "circle", "size": 28, "opacity": 1},
                     "encoding": {"xOffset": {"field": "slot", "type": "nominal", "scale": {"domain": ["L", "C", "R"]}},
                       "y": {"field": "value", "type": "quantitative", "title": "Methylation of nPE1 (%)", "scale": {"domain": [30, 80], "nice": false, "zero": false}, "axis": {"values": [30, 40, 50, 60, 70, 80], "tickCount": 20, "labelOverlap": false, "labelPadding": 2, "titlePadding": 17, "tickSize": 4}},
                       "color": {"field": "cat", "type": "nominal", "scale": {"domain": ["CON", "CON + Aza", "nBuP", "nBuP + Aza"], "range": ["#111111", "#727272", "#111111", "#a8282a"]}, "legend": null}}},
                    {"data": {"name": "eStats"}, "mark": {"type": "tick", "size": 32, "thickness": 2.5},
                     "encoding": {"y": {"field": "mean", "type": "quantitative", "title": "Methylation of nPE1 (%)"}, "color": {"field": "cat", "type": "nominal", "legend": null}}},
                    {"data": {"name": "eStats"}, "mark": {"type": "rule", "strokeWidth": 2.2},
                     "encoding": {"y": {"field": "lo", "type": "quantitative", "title": "Methylation of nPE1 (%)"}, "y2": {"field": "hi"}, "color": {"field": "cat", "type": "nominal", "legend": null}}},
                    {"data": {"name": "eStats"}, "mark": {"type": "tick", "size": 16, "thickness": 2.2},
                     "encoding": {"y": {"field": "lo", "type": "quantitative", "title": "Methylation of nPE1 (%)"}, "color": {"field": "cat", "type": "nominal", "legend": null}}},
                    {"data": {"name": "eStats"}, "mark": {"type": "tick", "size": 16, "thickness": 2.2},
                     "encoding": {"y": {"field": "hi", "type": "quantitative", "title": "Methylation of nPE1 (%)"}, "color": {"field": "cat", "type": "nominal", "legend": null}}},
                    {"data": {"name": "eMarks"}, "mark": {"type": "text", "fontSize": 17, "baseline": "middle", "dy": 3, "color": "#111"},
                     "encoding": {"y": {"field": "y", "type": "quantitative", "title": "Methylation of nPE1 (%)"}, "text": {"field": "label"}}}
                  ]
                }
              ],
              "columns": 1,
              "spacing": 0,
              "align": "none"
            },
            {
              "width": 110, "height": 192,
              "title": {"text": "f", "offset": -5.5},
              "resolve": {"scale": {"xOffset": "independent"}},
              "encoding": {"x": {"field": "gene", "type": "nominal", "scale": {"domain": ["Pomc"], "paddingInner": 0, "paddingOuter": 0.132}, "axis": {"title": null, "ticks": false, "labelFontStyle": "italic", "labelFontSize": 12.5, "labelPadding": 6}}},
              "layer": [
                {"data": {"name": "fBars"}, "mark": {"type": "bar", "stroke": "#111", "strokeWidth": 2.2},
                 "encoding": {"xOffset": {"field": "grp", "type": "nominal", "scale": {"domain": ["CON", "CON + AZA", "nBuP", "nBuP+ AZA"]}},
                   "y": {"field": "mean", "type": "quantitative", "title": "Normalized gene expression", "scale": {"domain": [0, 3200], "nice": false}, "axis": {"values": [0, 800, 1600, 2400, 3200], "tickCount": 20, "labelOverlap": false, "labelPadding": 5, "titlePadding": 8}},
                   "fill": {"field": "grp", "type": "nominal", "scale": {"domain": ["CON", "CON + AZA", "nBuP", "nBuP+ AZA"], "range": ["#ffffff", "#d4d4d4", "#707070", "#f4a3a3"]},
                     "legend": {"title": null, "orient": "none", "legendX": 112, "legendY": 12, "symbolType": "square", "symbolSize": 64, "symbolStrokeColor": "#111", "symbolStrokeWidth": 1, "labelFontSize": 12.5, "rowPadding": 1.5, "labelOffset": 5}}}},
                {"data": {"name": "fDots"}, "mark": {"type": "circle", "size": 18, "color": "#111", "opacity": 1},
                 "encoding": {"xOffset": {"field": "slot", "type": "nominal", "scale": {"domain": ["1L", "1C", "1R", "2L", "2C", "2R", "3L", "3C", "3R", "4L", "4C", "4R"]}},
                   "y": {"field": "value", "type": "quantitative", "title": "Normalized gene expression"}}},
                {"data": {"name": "fBars"}, "mark": {"type": "rule", "color": "#111", "strokeWidth": 2},
                 "encoding": {"xOffset": {"field": "grp", "type": "nominal", "scale": {"domain": ["CON", "CON + AZA", "nBuP", "nBuP+ AZA"]}}, "y": {"field": "lo", "type": "quantitative", "title": "Normalized gene expression"}, "y2": {"field": "hi"}}},
                {"data": {"name": "fBars"}, "mark": {"type": "tick", "color": "#111", "thickness": 2, "size": 13},
                 "encoding": {"xOffset": {"field": "grp", "type": "nominal", "scale": {"domain": ["CON", "CON + AZA", "nBuP", "nBuP+ AZA"]}}, "y": {"field": "lo", "type": "quantitative", "title": "Normalized gene expression"}}},
                {"data": {"name": "fBars"}, "mark": {"type": "tick", "color": "#111", "thickness": 2, "size": 13},
                 "encoding": {"xOffset": {"field": "grp", "type": "nominal", "scale": {"domain": ["CON", "CON + AZA", "nBuP", "nBuP+ AZA"]}}, "y": {"field": "hi", "type": "quantitative", "title": "Normalized gene expression"}}},
                {"data": {"name": "fMarks"}, "mark": {"type": "text", "fontSize": 17, "baseline": "middle", "dy": 3, "color": "#111"},
                 "encoding": {"xOffset": {"field": "grp", "type": "nominal", "scale": {"domain": ["CON", "CON + AZA", "nBuP", "nBuP+ AZA"]}}, "y": {"field": "y", "type": "quantitative", "title": "Normalized gene expression"}, "text": {"field": "label"}}}
              ]
            }
          ],
          "spacing": 43,
          "align": "none",
          "resolve": {"scale": {"fill": "independent", "color": "independent", "xOffset": "independent"}}
        }
      ],
      "columns": 1,
      "spacing": 15,
      "align": "none",
      "resolve": {"scale": {"fill": "independent", "color": "independent", "stroke": "independent", "shape": "independent", "strokeDash": "independent", "xOffset": "independent"}}
    }
  ],
  "columns": 1,
  "spacing": 27,
  "align": "none",
  "resolve": {"scale": {"fill": "independent", "color": "independent", "stroke": "independent", "shape": "independent", "strokeDash": "independent", "xOffset": "independent"}}
}
